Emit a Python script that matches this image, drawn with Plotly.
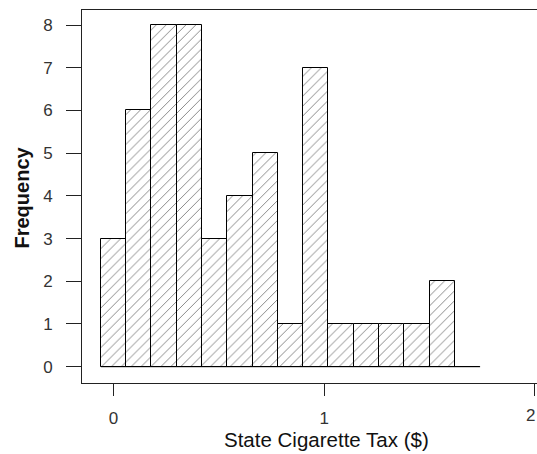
import plotly.graph_objects as go

# Histogram of state cigarette taxes (dollars), equal-width bins
bin_start = -0.06
bin_width = 0.12
counts = [3, 6, 8, 8, 3, 4, 5, 1, 7, 1, 1, 1, 1, 2, 0]
x_ticks = [0, 1, 2]
y_ticks = [0, 1, 2, 3, 4, 5, 6, 7, 8]

centers = [bin_start + bin_width * (i + 0.5) for i in range(len(counts))]
edges_lo = bin_start
edges_hi = bin_start + bin_width * len(counts)

FONT = "Liberation Sans, Arial, sans-serif"
TICK_FONT = dict(size=17, color="#333", family=FONT)

fig = go.Figure()
fig.add_trace(go.Bar(
    x=centers,
    y=counts,
    width=bin_width,
    marker=dict(
        color="white",
        line=dict(color="black", width=1),
        pattern=dict(shape="/", fgcolor="#111", bgcolor="white", size=7, solidity=0.14),
    ),
    hoverinfo="x+y",
    showlegend=False,
))
# baseline spanning all bins (including empty ones)
fig.add_trace(go.Scatter(
    x=[edges_lo, edges_hi], y=[0, 0], mode="lines",
    line=dict(color="black", width=1), hoverinfo="skip", showlegend=False,
))

# the last x tick sits on the page edge, so its label is placed explicitly,
# right-aligned to stay inside the page
x_ticks_axis = x_ticks[:-1]
annotations = [
    dict(text=str(x_ticks[-1]), xref="paper", yref="paper", x=1.0, y=-(415 - 383) / 373,
         xanchor="right", yanchor="middle", showarrow=False, font=TICK_FONT),
    dict(text="State Cigarette Tax ($)", xref="paper", yref="paper",
         x=(326.5 - 82) / 455, y=-(440 - 383) / 373, xanchor="center", yanchor="middle",
         showarrow=False, font=dict(size=20.5, color="#111", family=FONT)),
    dict(text="<b>Frequency</b>", xref="paper", yref="paper",
         x=-(82 - 21) / 455, y=(383 - 197.5) / 373, xanchor="center", yanchor="middle",
         textangle=-90, showarrow=False, font=dict(size=20, color="#111", family=FONT)),
]

fig.update_layout(
    width=537, height=454,
    margin=dict(l=82, r=0, t=10, b=71),
    paper_bgcolor="white", plot_bgcolor="white",
    font=dict(family=FONT, color="#333"),
    bargap=0,
    xaxis=dict(
        range=[-0.1495, 2.010],
        tickvals=x_ticks, ticktext=[str(v) if v in x_ticks_axis else "" for v in x_ticks],
        ticks="outside", ticklen=12, tickcolor="#222", tickwidth=1,
        tickfont=TICK_FONT,
        ticklabelstandoff=8,
        showline=True, linecolor="#222", linewidth=1, mirror=True,
        showgrid=False, zeroline=False,
    ),
    yaxis=dict(
        range=[-0.382, 8.353],
        tickvals=y_ticks, ticktext=[str(v) for v in y_ticks],
        ticks="outside", ticklen=15, tickcolor="#222", tickwidth=1,
        tickfont=TICK_FONT,
        ticklabelstandoff=10,
        showline=True, linecolor="#222", linewidth=1,
        showgrid=False, zeroline=False,
    ),
    annotations=annotations,
)

fig.write_html("out.html")
